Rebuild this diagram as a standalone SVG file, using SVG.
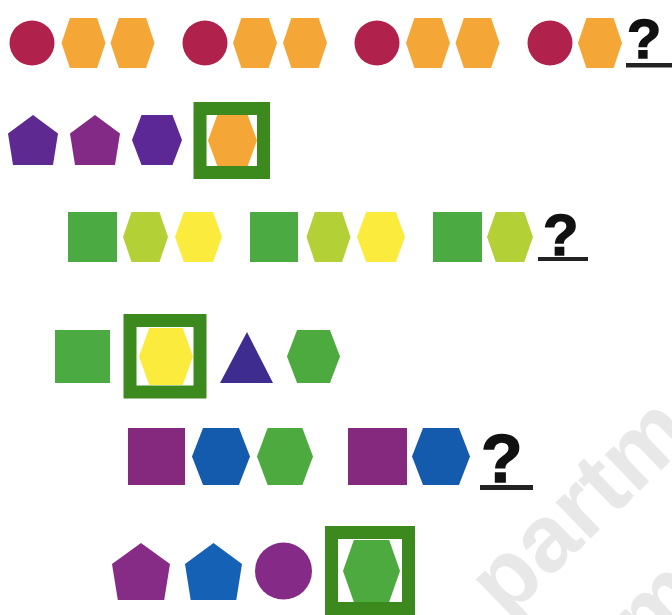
<svg xmlns="http://www.w3.org/2000/svg" xmlns:xlink="http://www.w3.org/1999/xlink" width="672" height="615" viewBox="0 0 672 615">
<style>
.q{font-family:"Liberation Sans",Arial,sans-serif;font-weight:bold;fill:#111;stroke:#111;stroke-width:1.5}
.ul{fill:#222}
.box{stroke:#3C8A1E;stroke-width:13;fill:#fff}
.wm{font-family:"Liberation Sans",Arial,sans-serif;font-weight:bold;font-size:95px;fill:#e8e8e8}
</style>
<defs>
<polygon id="hex" points="-0.5,0 -0.31,-0.5 0.31,-0.5 0.5,0 0.31,0.5 -0.31,0.5"/>
<polygon id="pent" points="0,-0.5 0.5,-0.13 0.4,0.5 -0.4,0.5 -0.5,-0.13"/>
</defs>
<rect width="672" height="615" fill="#fff"/>
<g id="watermark" transform="translate(506,620) rotate(-44)">
<text class="wm" x="0" y="0">partm</text>
<text class="wm" x="75" y="125">m</text>
</g>
<g id="row1">
<circle cx="32" cy="43" r="22.5" fill="#B0224B"/>
<use xlink:href="#hex" transform="translate(83.5,43) scale(44,50)" fill="#F4A737"/>
<use xlink:href="#hex" transform="translate(132.5,43) scale(44,50)" fill="#F4A737"/>
<circle cx="205" cy="43" r="22.5" fill="#B0224B"/>
<use xlink:href="#hex" transform="translate(255,43) scale(44,50)" fill="#F4A737"/>
<use xlink:href="#hex" transform="translate(305,43) scale(44,50)" fill="#F4A737"/>
<circle cx="377" cy="43" r="22.5" fill="#B0224B"/>
<use xlink:href="#hex" transform="translate(428,43) scale(44,50)" fill="#F4A737"/>
<use xlink:href="#hex" transform="translate(477.5,43) scale(44,50)" fill="#F4A737"/>
<circle cx="550" cy="43" r="22.5" fill="#B0224B"/>
<use xlink:href="#hex" transform="translate(600,43) scale(44,50)" fill="#F4A737"/>
<text class="q" x="627" y="58" font-size="56">?</text>
<rect class="ul" x="626" y="63" width="46" height="4.5"/>
</g>
<g id="row2">
<use xlink:href="#pent" transform="translate(33,140) scale(50,50)" fill="#5E2A92"/>
<use xlink:href="#pent" transform="translate(95,140) scale(50,50)" fill="#832A86"/>
<use xlink:href="#hex" transform="translate(157,140) scale(50,50)" fill="#5C2895"/>
<rect class="box" x="200" y="108.5" width="63.5" height="64"/>
<use xlink:href="#hex" transform="translate(232.5,140.5) scale(49,51)" fill="#F4A737"/>
</g>
<g id="row3">
<rect x="68" y="212" width="49" height="50" fill="#4BAA42"/>
<use xlink:href="#hex" transform="translate(145.5,237) scale(45,50)" fill="#B3D137"/>
<use xlink:href="#hex" transform="translate(198.5,237) scale(47,50)" fill="#FAEB3C"/>
<rect x="250" y="212" width="48" height="50" fill="#4BAA42"/>
<use xlink:href="#hex" transform="translate(328.5,237) scale(44,50)" fill="#B3D137"/>
<use xlink:href="#hex" transform="translate(381,237) scale(48,50)" fill="#FAEB3C"/>
<rect x="433" y="212" width="49" height="50" fill="#4BAA42"/>
<use xlink:href="#hex" transform="translate(510,237) scale(46,50)" fill="#B3D137"/>
<text class="q" x="543" y="255" font-size="58">?</text>
<rect class="ul" x="538" y="257" width="50" height="4"/>
</g>
<g id="row4">
<rect x="55" y="330" width="55" height="53" fill="#4BAA42"/>
<rect class="box" x="130" y="320.5" width="70" height="71.5" stroke-width="14"/>
<use xlink:href="#hex" transform="translate(166,356.5) scale(54,57)" fill="#FAEB3C"/>
<polygon points="220,383 247,332 273,383" fill="#3E2C8E"/>
<use xlink:href="#hex" transform="translate(313.5,356.5) scale(53,53)" fill="#4CAA3F"/>
</g>
<g id="row5">
<rect x="128" y="428" width="57" height="57" fill="#85297F"/>
<use xlink:href="#hex" transform="translate(221,456.5) scale(58,57)" fill="#145BAE"/>
<use xlink:href="#hex" transform="translate(285,456.5) scale(56,57)" fill="#4CAA3F"/>
<rect x="348" y="428" width="59" height="57" fill="#85297F"/>
<use xlink:href="#hex" transform="translate(441,456.5) scale(58,57)" fill="#145BAE"/>
<text class="q" x="481" y="482" font-size="68">?</text>
<rect class="ul" x="480" y="485" width="53" height="5"/>
</g>
<g id="row6">
<use xlink:href="#pent" transform="translate(141,571.5) scale(58,57)" fill="#862C87"/>
<use xlink:href="#pent" transform="translate(213.5,571.5) scale(57,57)" fill="#1561B6"/>
<circle cx="283.5" cy="571" r="28.5" fill="#862A88"/>
<rect class="box" x="331.5" y="532.5" width="77" height="76" fill="#cfeac6"/>
<use xlink:href="#hex" transform="translate(371.5,571) scale(57,62)" fill="#4DAA3E"/>
</g>
</svg>
